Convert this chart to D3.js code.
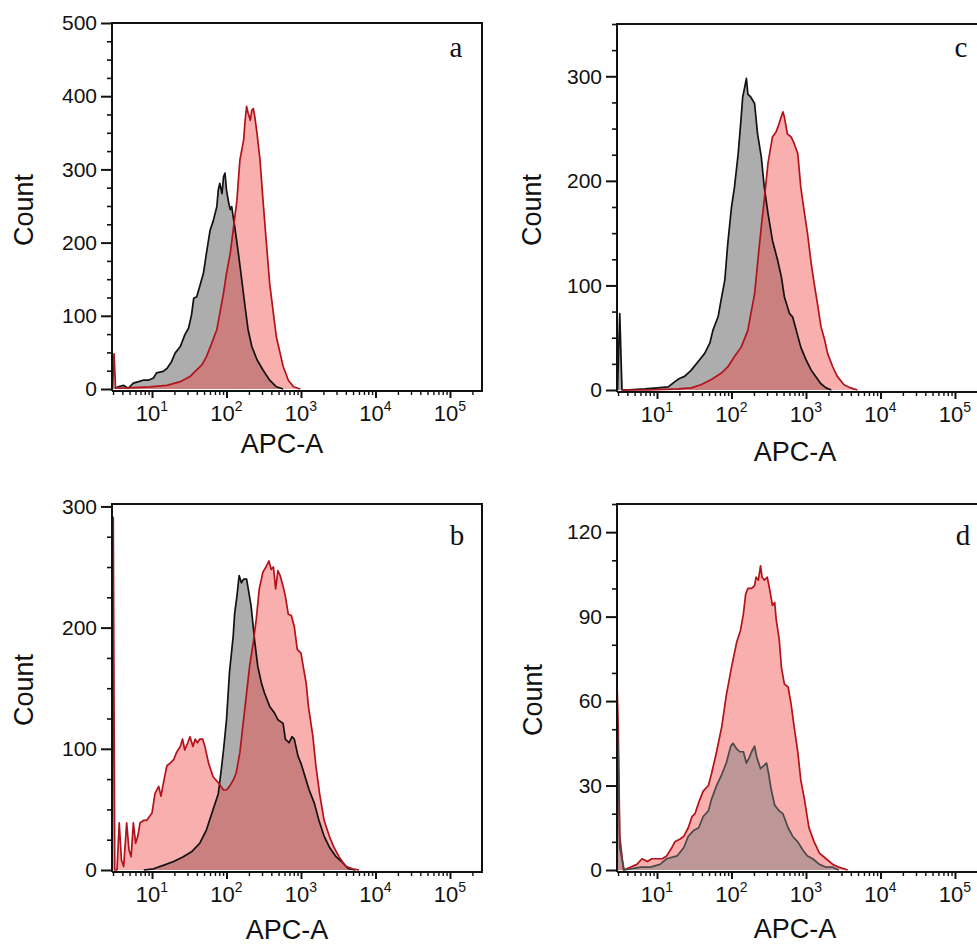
<!DOCTYPE html>
<html>
<head>
<meta charset="utf-8">
<title>APC-A histograms</title>
<script src="https://d3js.org/d3.v7.min.js"></script>
<style>
  body { margin: 0; background: #fff; overflow: hidden; }
  svg { display: block; }
  text { font-family: "Liberation Sans", Arial, sans-serif; fill: #111; }
  .letter { font-family: "Liberation Serif", "Times New Roman", serif; font-size: 29px; }
</style>
</head>
<body>
<svg id="chart"></svg>
<script>
// data: [log10(APC-A), count]
const aGray = [[0.50,1],[0.55,3],[0.62,5],[0.68,1],[0.75,8],[0.82,10],[0.88,12],[0.95,12],[1.02,15],[1.06,22],
  [1.15,24],[1.20,28],[1.26,37],[1.31,49],[1.38,58],[1.44,74],[1.49,83],[1.53,101],[1.56,124],[1.60,126],
  [1.64,140],[1.69,158],[1.73,185],[1.78,217],[1.82,229],[1.87,249],[1.89,272],[1.91,281],[1.94,267],[1.96,290],
  [1.98,295],[2.00,272],[2.03,254],[2.05,245],[2.07,249],[2.09,235],[2.11,222],[2.16,185],[2.20,153],[2.25,112],
  [2.29,81],[2.34,58],[2.41,40],[2.49,26],[2.58,12],[2.67,3],[2.76,0]];
const aPink = [[0.47,0],[0.49,48],[0.51,2],[0.57,1],[0.75,2],[0.97,3],[1.20,5],[1.38,10],[1.51,17],[1.60,26],
  [1.67,33],[1.73,44],[1.80,62],[1.87,81],[1.91,103],[1.96,131],[2.00,158],[2.05,185],[2.09,217],[2.14,258],
  [2.18,313],[2.23,340],[2.25,367],[2.27,386],[2.29,377],[2.32,367],[2.34,381],[2.36,383],[2.38,372],[2.41,349],
  [2.45,313],[2.49,258],[2.54,194],[2.58,144],[2.63,103],[2.67,71],[2.72,49],[2.76,31],[2.83,12],[2.90,3],[2.99,0]];

const bGray = [[0.89,0],[1.02,1],[1.16,4],[1.29,7],[1.42,11],[1.53,15],[1.64,22],[1.73,33],[1.82,50],[1.89,63],
  [1.93,83],[1.96,99],[2.00,124],[2.04,163],[2.09,193],[2.11,212],[2.14,226],[2.17,243],[2.20,237],[2.23,240],
  [2.27,240],[2.30,229],[2.33,218],[2.38,188],[2.42,168],[2.47,154],[2.51,146],[2.58,135],[2.64,130],[2.69,124],
  [2.76,121],[2.79,108],[2.84,105],[2.88,110],[2.91,108],[2.96,94],[3.00,88],[3.04,80],[3.11,66],[3.18,55],
  [3.24,41],[3.31,28],[3.38,19],[3.47,11],[3.56,6],[3.64,1],[3.73,0]];
const bPink = [[0.465,0],[0.48,291],[0.50,0],[0.53,0],[0.56,39],[0.59,8],[0.62,3],[0.66,39],[0.69,17],[0.72,11],
  [0.75,39],[0.78,22],[0.81,28],[0.84,39],[0.89,41],[0.93,41],[1.00,47],[1.04,63],[1.09,69],[1.12,61],
  [1.16,74],[1.20,86],[1.24,88],[1.29,91],[1.33,97],[1.38,102],[1.41,108],[1.44,99],[1.48,105],[1.51,110],
  [1.55,102],[1.58,108],[1.61,105],[1.64,108],[1.68,108],[1.71,102],[1.76,88],[1.82,77],[1.89,72],[1.96,66],
  [2.00,66],[2.04,69],[2.09,74],[2.13,80],[2.18,97],[2.22,119],[2.27,146],[2.31,168],[2.36,188],[2.40,207],
  [2.44,232],[2.49,246],[2.53,250],[2.57,255],[2.60,248],[2.63,250],[2.66,232],[2.69,247],[2.72,243],[2.76,234],
  [2.79,226],[2.83,211],[2.87,210],[2.91,201],[2.95,182],[3.00,179],[3.03,168],[3.07,154],[3.10,135],[3.16,110],
  [3.20,86],[3.25,63],[3.31,41],[3.38,28],[3.44,19],[3.51,11],[3.60,3],[3.69,1],[3.78,0]];

const cGray = [[0.47,0],[0.50,73],[0.53,0],[0.57,0],[0.84,1],[1.01,2],[1.15,3],[1.24,8],[1.30,11],[1.37,13],
  [1.46,19],[1.55,27],[1.64,35],[1.71,45],[1.75,57],[1.82,70],[1.86,86],[1.91,105],[1.95,140],[2.00,175],
  [2.04,194],[2.09,226],[2.13,261],[2.15,280],[2.17,287],[2.20,298],[2.22,283],[2.26,280],[2.31,274],[2.35,245],
  [2.40,223],[2.44,194],[2.49,169],[2.55,143],[2.62,124],[2.67,108],[2.71,89],[2.78,73],[2.82,70],[2.87,57],
  [2.93,41],[3.00,29],[3.07,19],[3.13,13],[3.20,6],[3.27,2],[3.34,0]];
const cPink = [[0.53,0],[0.88,0],[1.28,1],[1.46,2],[1.59,5],[1.73,10],[1.86,16],[1.95,22],[2.04,32],[2.13,41],
  [2.22,57],[2.26,73],[2.31,92],[2.35,121],[2.40,156],[2.44,182],[2.49,217],[2.55,242],[2.60,247],[2.64,255],
  [2.69,266],[2.71,261],[2.75,245],[2.80,242],[2.84,236],[2.89,226],[2.93,194],[2.98,169],[3.02,150],[3.07,121],
  [3.11,102],[3.16,80],[3.20,61],[3.25,48],[3.29,35],[3.36,22],[3.42,13],[3.51,5],[3.60,2],[3.69,0]];

const dGray = [[0.465,55],[0.48,40],[0.50,8],[0.56,0],[0.78,1],[0.91,1],[1.04,2],[1.13,4],[1.27,5],[1.36,8],
  [1.42,12],[1.49,14],[1.56,15],[1.62,19],[1.69,21],[1.73,25],[1.80,30],[1.87,34],[1.93,38],[1.99,44],
  [2.02,45],[2.07,43],[2.11,42],[2.16,42],[2.20,38],[2.24,40],[2.27,42],[2.31,44],[2.34,40],[2.39,36],
  [2.43,37],[2.47,38],[2.50,34],[2.53,29],[2.58,23],[2.64,21],[2.69,20],[2.76,15],[2.82,12],[2.89,10],
  [2.96,7],[3.02,5],[3.09,4],[3.18,2],[3.27,1],[3.36,1],[3.44,0]];
const dPink = [[0.465,65],[0.48,50],[0.50,12],[0.55,0],[0.64,1],[0.73,2],[0.80,4],[0.87,3],[0.93,4],[1.00,4],
  [1.07,4],[1.13,5],[1.20,8],[1.24,10],[1.31,11],[1.36,12],[1.42,15],[1.47,19],[1.51,20],[1.56,24],
  [1.62,28],[1.69,30],[1.73,34],[1.80,42],[1.87,51],[1.93,62],[2.00,72],[2.07,81],[2.12,85],[2.16,91],
  [2.19,98],[2.22,100],[2.27,100],[2.31,101],[2.33,104],[2.36,103],[2.39,108],[2.41,104],[2.44,103],[2.48,104],
  [2.51,100],[2.55,94],[2.58,95],[2.60,89],[2.64,82],[2.67,72],[2.71,66],[2.76,65],[2.80,59],[2.84,51],
  [2.89,42],[2.93,32],[2.98,25],[3.04,15],[3.11,10],[3.18,6],[3.27,4],[3.36,2],[3.44,1],[3.56,0]];

// tick labels
const aTicks = [0, 100, 200, 300, 400, 500];
const bTicks = [0, 100, 200, 300];
const cTicks = [0, 100, 200, 300];
const dTicks = [0, 30, 60, 90, 120];
const decades = [1, 2, 3, 4, 5];
const xTitle = "APC-A";
const yTitle = "Count";

// layout
const width = 977, height = 944;
const plotW = 370;
const xMin = Math.pow(10, 0.463), xMax = Math.pow(10, 5.43);

const panels = [
  { name: "a", gray: aGray, pink: aPink, ticks: aTicks, yMax: 500, minor: 25, grayOnTop: false,
    left: 112, top: 23, y0: 389, letter: [456, 57], count: [33, 210], apc: [282, 453] },
  { name: "c", gray: cGray, pink: cPink, ticks: cTicks, yMax: 350, minor: 25, grayOnTop: false,
    left: 617, top: 24, y0: 390, letter: [961, 57], count: [541, 210], apc: [795, 461] },
  { name: "b", gray: bGray, pink: bPink, ticks: bTicks, yMax: 302, minor: 25, grayOnTop: false,
    left: 112, top: 504, y0: 870, letter: [457, 545], count: [33, 690], apc: [287, 939] },
  { name: "d", gray: dGray, pink: dPink, ticks: dTicks, yMax: 130, minor: 10, grayOnTop: true,
    left: 617, top: 504, y0: 870, letter: [963, 545], count: [542, 700], apc: [795, 938] }
];

const svg = d3.select("#chart")
  .attr("width", width)
  .attr("height", height);

function drawPanel(p) {
  const g = svg.append("g").attr("class", "panel-" + p.name);
  const right = p.left + plotW;
  const axisY = p.y0 + 2;

  // scales
  const x = d3.scaleLog().domain([xMin, xMax]).range([p.left, right]);
  const y = d3.scaleLinear().domain([0, p.yMax]).range([p.y0, p.top]);

  const area = d3.area()
    .x(d => x(Math.pow(10, d[0])))
    .y0(y(0))
    .y1(d => y(d[1]));
  const line = d3.line()
    .x(d => x(Math.pow(10, d[0])))
    .y(d => y(d[1]));

  // fills and outlines
  const grayFill = p.grayOnTop ? "rgba(128,128,128,0.5)" : "#adadad";
  const pinkFill = "rgba(244,70,70,0.43)";
  const grayStroke = p.grayOnTop ? "#4a4a4a" : "#111";
  const redStroke = "#b3121b";

  const fills = p.grayOnTop
    ? [[p.pink, pinkFill], [p.gray, grayFill]]
    : [[p.gray, grayFill], [p.pink, pinkFill]];
  fills.forEach(([data, fill]) => {
    g.append("path").datum(data).attr("d", area).attr("fill", fill);
  });

  const lines = p.grayOnTop
    ? [[p.pink, redStroke], [p.gray, grayStroke]]
    : [[p.gray, grayStroke], [p.pink, redStroke]];
  lines.forEach(([data, stroke]) => {
    g.append("path").datum(data).attr("d", line)
      .attr("fill", "none")
      .attr("stroke", stroke)
      .attr("stroke-width", 1.7)
      .attr("stroke-linejoin", "round");
  });

  // frame
  g.append("path")
    .attr("d", `M${p.left},${axisY}V${p.top}H${right}V${axisY}H${p.left}`)
    .attr("fill", "none")
    .attr("stroke", "#111")
    .attr("stroke-width", 2);

  // y axis: minor and major ticks
  const yMinor = d3.range(0, p.yMax + 0.1, p.minor).filter(v => !p.ticks.includes(v));
  const yMinorG = g.append("g")
    .attr("transform", `translate(${p.left},0)`)
    .call(d3.axisLeft(y).tickValues(yMinor).tickSize(5).tickFormat(""));
  yMinorG.select(".domain").remove();
  yMinorG.selectAll("line").attr("stroke", "#111").attr("stroke-width", 1.6);

  const yMajorG = g.append("g")
    .attr("transform", `translate(${p.left},0)`)
    .call(d3.axisLeft(y).tickValues(p.ticks).tickSize(11).tickPadding(4));
  yMajorG.select(".domain").remove();
  yMajorG.selectAll("line").attr("stroke", "#111").attr("stroke-width", 2);
  yMajorG.selectAll("text")
    .attr("fill", "#111")
    .style("font-size", "21px")
    .style("font-family", "'Liberation Sans', Arial, sans-serif");

  // x axis: log ticks
  const xMinor = [];
  [1, 10, 100, 1e3, 1e4, 1e5].forEach(dec => {
    for (let k = 2; k <= 9; k++) {
      const v = dec * k;
      if (v > xMin && v < xMax) xMinor.push(v);
    }
  });
  const xMinorG = g.append("g")
    .attr("transform", `translate(0,${axisY})`)
    .call(d3.axisBottom(x).tickValues(xMinor).tickSize(4).tickFormat(""));
  xMinorG.select(".domain").remove();
  xMinorG.selectAll("line").attr("stroke", "#111").attr("stroke-width", 1.4);

  const xMajorG = g.append("g")
    .attr("transform", `translate(0,${axisY})`)
    .call(d3.axisBottom(x).tickValues(decades.map(e => Math.pow(10, e))).tickSize(7).tickFormat(""));
  xMajorG.select(".domain").remove();
  xMajorG.selectAll("line").attr("stroke", "#111").attr("stroke-width", 2);

  // decade labels with superscript
  decades.forEach(e => {
    const t = g.append("text")
      .attr("x", x(Math.pow(10, e)))
      .attr("y", p.y0 + 32)
      .attr("text-anchor", "middle")
      .style("font-size", "22px");
    t.append("tspan").text("10");
    t.append("tspan").attr("dy", -10).style("font-size", "14px").text(e);
  });

  // titles
  g.append("text")
    .attr("x", p.apc[0])
    .attr("y", p.apc[1])
    .attr("text-anchor", "middle")
    .style("font-size", "27px")
    .text(xTitle);

  g.append("text")
    .attr("transform", `translate(${p.count[0]},${p.count[1]}) rotate(-90)`)
    .attr("text-anchor", "middle")
    .style("font-size", "27px")
    .text(yTitle);

  // panel letter
  g.append("text")
    .attr("class", "letter")
    .attr("x", p.letter[0])
    .attr("y", p.letter[1])
    .attr("text-anchor", "middle")
    .text(p.name);
}

panels.forEach(drawPanel);
</script>
</body>
</html>
